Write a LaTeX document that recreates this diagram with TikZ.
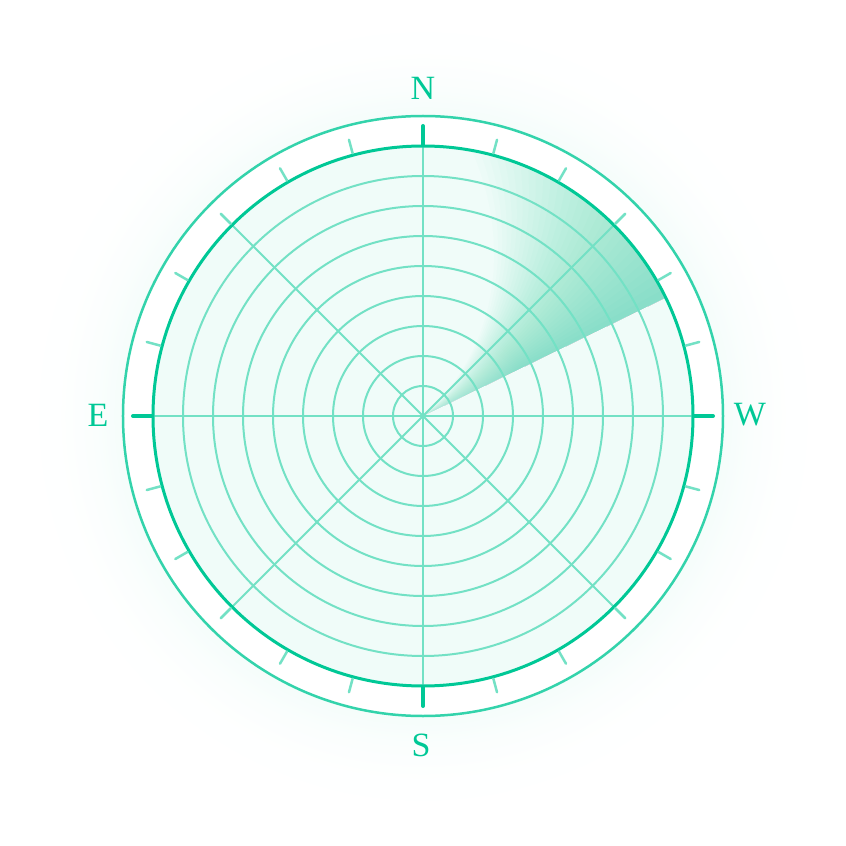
\documentclass[tikz,border=0pt]{standalone}
\usepackage{tikz}
\usepackage{fontspec}
\setmainfont{Liberation Serif}
\usetikzlibrary{fadings}
\definecolor{tl}{RGB}{0,200,150}
\colorlet{ringc}{tl!55}
\colorlet{outc}{tl!80}
\colorlet{diskc}{tl!6}
\colorlet{glowA}{tl!4}
\colorlet{glowB}{tl!1.8}
\colorlet{glowC}{tl!0.5}
\pgfdeclareradialshading{glowsh}{\pgfpoint{0bp}{0bp}}{color(0bp)=(glowA); color(17.857bp)=(glowA); color(19.64bp)=(glowB); color(21.43bp)=(glowC); color(23.81bp)=(white); color(50bp)=(white)}
\tikzfading[name=centerfade, inner color=transparent!55, outer color=transparent!100]
\begin{document}
\begin{tikzpicture}[x=1pt,y=1pt,
  ringline/.style={draw=ringc, line width=2},
  majortick/.style={draw=tl, line width=4, line cap=round},
  minortick/.style={draw=ringc, line width=2.5, line cap=round},
  lbl/.style={text=tl, font=\fontsize{34}{40}\selectfont, inner sep=0pt}]
\useasboundingbox (-423,-430) rectangle (423,416);
\fill[white] (-423,-430) rectangle (423,416);
% glow
\shade[shading=glowsh] (0,0) circle (420);
\fill[white] (0,0) circle (300);
\draw[outc, line width=2.5] (0,0) circle (300);
% disk
\fill[diskc] (0,0) circle (270);
% sweep
\foreach \k in {1,...,30}{
  \fill[tl, opacity=0.015] (0,0) -- (26:270)
    arc[start angle=26, end angle={26+\k/30*53.57}, radius=270]
    -- plot[domain=270:0, samples=28, variable=\rr] ({26+\k/30*(15+\rr/7)}:\rr) -- cycle;
}
\fill[diskc, path fading=centerfade] (0,0) circle (110);
% rings
\foreach \rad in {30,60,...,240}
  \draw[ringline] (0,0) circle (\rad);
% spokes
\foreach \a in {0,45,...,315}
  \draw[ringline] (0,0) -- (\a:270);
% main circle
\draw[tl, line width=3] (0,0) circle (270);
% ticks
\foreach \a in {15,30,45,60,75,105,120,135,150,165,195,210,225,240,255,285,300,315,330,345}
  \draw[minortick] (\a:272) -- (\a:286);
\foreach \a in {0,90,180,270}
  \draw[majortick] (\a:271) -- (\a:290);
% labels
\node[lbl] (n) at (0,328) {N};
\node[lbl] (s) at (-2,-329) {S};
\node[lbl] (e) at (-325,1) {E};
\node[lbl] (w) at (327,1) {W};
\end{tikzpicture}
\end{document}
